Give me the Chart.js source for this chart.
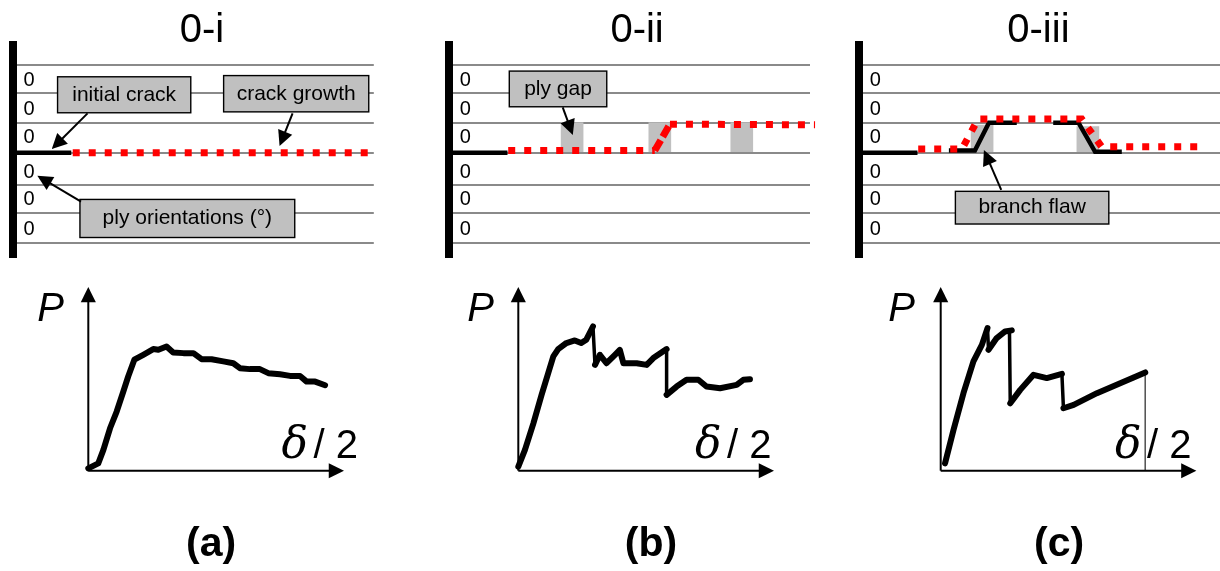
<!DOCTYPE html>
<html>
<head>
<meta charset="utf-8">
<script src="https://cdn.jsdelivr.net/npm/chart.js@4"></script>
<style>
body { margin: 0; background: #fff; overflow: hidden; width: 1220px; height: 571px; position: relative; }
canvas { position: absolute; }
</style>
</head>
<body>
<canvas id="layup1" width="400" height="270" style="left:0;top:0"></canvas>
<canvas id="layup2" width="400" height="270" style="left:430px;top:0"></canvas>
<canvas id="layup3" width="380" height="270" style="left:840px;top:0"></canvas>
<canvas id="load1" width="350" height="301" style="left:20px;top:270px"></canvas>
<canvas id="load2" width="350" height="301" style="left:450px;top:270px"></canvas>
<canvas id="load3" width="350" height="301" style="left:870px;top:270px"></canvas>
<script>
// ply interfaces, crack plane = 0
var plyLines = [2.92, 2, 1, 0, -1.07, -2, -3];
var plyLabelY = [2.49, 1.49, 0.56, -0.58, -1.51, -2.51];
var plyLabels = ["0", "0", "0", "0", "0", "0"];

var initialCrackX = [0, 16.2];
var initialCrackY = [0, 0];

var growth1X = [16.6, 98.6];
var growth1Y = [0, 0];

var growth2X = [16.4, 57, 61.2, 101.4];
var growth2Y = [0.07, 0.07, 0.95, 0.93];
var gaps2X = [34.1, 58.4, 81.1];
var gaps2Top = [1, 1, 1];

var growth3X = [16.4, 28.5, 33, 61.7, 67.2, 95.4];
var growth3Y = [0.12, 0.12, 1.12, 1.12, 0.2, 0.2];
var gaps3X = [34.1, 63.4];
var gaps3Top = [0.92, 0.87];
var flaw3LeftX = [24.9, 32.1, 36, 43.7];
var flaw3LeftY = [0.07, 0.07, 1, 1];
var flaw3RightX = [53.8, 60.8, 65.4, 72.8];
var flaw3RightY = [1, 1, 0.03, 0.03];

// load-displacement curves, both axes 0-100
var curveAX = [0, 3.9, 5.9, 8.5, 11.1, 13.7, 15.6, 18, 21.5, 25.4, 27.4, 30.6, 33.2, 37.2, 41.1, 44.3, 48.2, 52.8, 56.7, 59.3, 63.2, 67.1, 70.4, 75, 78.9, 82.8, 85.4, 88.7, 92.6];
var curveAP = [1.3, 4, 11.3, 23.1, 32.2, 43.1, 51.3, 60.4, 63.1, 66.2, 65.8, 67.6, 64.4, 64, 64, 60.7, 60.7, 59.5, 58.5, 55.8, 55.3, 55.3, 53.1, 52.5, 51.6, 51.6, 48.5, 48.5, 46.5];

var curveBX = [0, 2.6, 5.9, 9.1, 11.7, 13.7, 15.6, 18.8, 22.1, 24.6, 26.6, 29.2, 30, 31.9, 34.5, 37.8, 39.7, 41.1, 46.3, 50.2, 52.8, 58, 58, 61.9, 65.8, 70.4, 73.6, 78.9, 85.4, 88, 90.6];
var curveBP = [2.2, 11.3, 25.8, 41.3, 53.1, 62.2, 66.2, 69.5, 70.9, 69.5, 71.3, 78.5, 57.6, 63.1, 58.5, 63.1, 65.8, 58.5, 58.5, 57.6, 61.3, 66.2, 41.3, 45.8, 49.5, 49.5, 45.8, 44.9, 46.7, 49.5, 49.8];

var curveCX = [1.7, 5, 8.9, 12.8, 16.1, 18.3, 18.7, 21.9, 25.2, 27.8, 26.9, 27.2, 31.1, 36.3, 41.5, 47.4, 48, 52, 61.1, 70.2, 80];
var curveCP = [4, 22.2, 42.2, 59.5, 68.5, 77.6, 65.8, 72.2, 75.8, 76.4, 75.8, 36.7, 44, 52.2, 50.4, 52.7, 34, 35.8, 42.2, 47.6, 53.5];
var dropCX = [80, 80];
var dropCP = [53.5, 0];

function xy(xs, ys) {
	return xs.map(function (x, i) { return { x: x, y: ys[i] }; });
}

function drawArrow(ctx, x0, y0, x1, y1, size, lineWidth) {
	var a = Math.atan2(y1 - y0, x1 - x0);
	ctx.strokeStyle = "#000";
	ctx.fillStyle = "#000";
	ctx.lineWidth = lineWidth;
	ctx.beginPath();
	ctx.moveTo(x0, y0);
	ctx.lineTo(x1 - Math.cos(a) * size * 0.8, y1 - Math.sin(a) * size * 0.8);
	ctx.stroke();
	ctx.beginPath();
	ctx.moveTo(x1, y1);
	ctx.lineTo(x1 - size * Math.cos(a - 0.46), y1 - size * Math.sin(a - 0.46));
	ctx.lineTo(x1 - size * Math.cos(a + 0.46), y1 - size * Math.sin(a + 0.46));
	ctx.closePath();
	ctx.fill();
}

// title, ply labels and callouts for the layup sketches
function layupNotes(title, titleX, callouts) {
	return {
		id: "layupNotes",
		afterDraw: function (chart) {
			var ctx = chart.ctx, sx = chart.scales.x, sy = chart.scales.y;
			ctx.save();
			ctx.textBaseline = "alphabetic";
			ctx.fillStyle = "#000";
			ctx.textAlign = "center";
			ctx.font = "40px 'Liberation Sans'";
			ctx.fillText(title, sx.getPixelForValue(titleX), 41.5);

			ctx.font = "20px 'Liberation Sans'";
			ctx.textBaseline = "middle";
			plyLabelY.forEach(function (y, i) {
				ctx.fillStyle = "#000";
				ctx.fillText(plyLabels[i], sx.getPixelForValue(4.5), sy.getPixelForValue(y) + 2);
			});

			callouts.forEach(function (c) {
				var l = sx.getPixelForValue(c.x0), r = sx.getPixelForValue(c.x1);
				var t = sy.getPixelForValue(c.y0), b = sy.getPixelForValue(c.y1);
				ctx.fillStyle = "#c0c0c0";
				ctx.strokeStyle = "#000";
				ctx.lineWidth = 1.4;
				ctx.fillRect(l, t, r - l, b - t);
				ctx.strokeRect(l, t, r - l, b - t);
				ctx.fillStyle = "#000";
				ctx.font = "21px 'Liberation Sans'";
				ctx.fillText(c.text, (l + r) / 2, (t + b) / 2);
				drawArrow(ctx, sx.getPixelForValue(c.from[0]), sy.getPixelForValue(c.from[1]),
					sx.getPixelForValue(c.to[0]), sy.getPixelForValue(c.to[1]), 17, 2);
			});
			ctx.restore();
		},
	};
}

// axis arrows, P and delta/2 labels, panel caption
function loadNotes(caption, captionX, pX, deltaX) {
	return {
		id: "loadNotes",
		afterDraw: function (chart) {
			var ctx = chart.ctx, sx = chart.scales.x, sy = chart.scales.y;
			var ox = sx.getPixelForValue(0), oy = sy.getPixelForValue(0);
			ctx.save();
			drawArrow(ctx, ox, oy, sx.getPixelForValue(100), oy, 17, 2);
			drawArrow(ctx, ox, oy, ox, sy.getPixelForValue(100), 17, 2);

			ctx.fillStyle = "#000";
			ctx.textBaseline = "alphabetic";
			ctx.textAlign = "left";
			ctx.font = "italic 40px 'Liberation Sans'";
			ctx.fillText("P", sx.getPixelForValue(pX), sy.getPixelForValue(81.4));

			var dx = sx.getPixelForValue(deltaX), dy = sy.getPixelForValue(6.7);
			ctx.font = "italic 44px 'DejaVu Serif'";
			ctx.fillText("δ", dx, dy);
			ctx.font = "40px 'Liberation Sans'";
			ctx.fillText("/ 2", dx + 32, dy);

			ctx.textAlign = "center";
			ctx.font = "bold 41px 'Liberation Sans'";
			ctx.fillText(caption, sx.getPixelForValue(captionX), sy.getPixelForValue(-46.6));
			ctx.restore();
		},
	};
}

function redLine(xs, ys, rampDash) {
	return {
		type: "line",
		data: xy(xs, ys),
		borderColor: "#ff0000",
		borderWidth: 7,
		borderDash: [7, 9],
		pointRadius: 0,
		tension: 0,
		clip: false,
		order: 1,
		segment: {
			borderDash: function (c) {
				return rampDash && Math.abs(c.p1.parsed.y - c.p0.parsed.y) > 0.5 ? rampDash : undefined;
			},
		},
	};
}

function blackLine(xs, ys) {
	return {
		type: "line",
		data: xy(xs, ys),
		borderColor: "#000",
		borderWidth: 4.5,
		pointRadius: 0,
		tension: 0,
		clip: false,
		order: 2,
	};
}

function gapBars(xs, tops) {
	return {
		type: "bar",
		data: xs.map(function (x, i) { return { x: x, y: [0, tops[i]] }; }),
		backgroundColor: "#c0c0c0",
		barThickness: 22,
		order: 3,
	};
}

function layupChart(id, padLeft, padRight, datasets, plugin) {
	return new Chart(document.getElementById(id), {
		type: "line",
		data: { datasets: datasets },
		plugins: [plugin],
		options: {
			responsive: false,
			animation: false,
			events: [],
			layout: { padding: { left: padLeft, right: padRight, top: 45, bottom: 13 } },
			plugins: { legend: { display: false }, tooltip: { enabled: false } },
			scales: {
				x: { type: "linear", min: 0, max: 100, display: false, offset: false },
				y: {
					type: "linear",
					min: -3.48,
					max: 3.59,
					afterFit: function (s) { s.width = 0; },
					afterBuildTicks: function (s) {
						s.ticks = plyLines.map(function (v) { return { value: v }; });
					},
					ticks: { display: false },
					grid: { color: "#8a8a8a", lineWidth: 2, drawTicks: false },
					border: { color: "#000", width: 8 },
				},
			},
		},
	});
}

function loadChart(id, padLeft, padRight, datasets, plugin) {
	return new Chart(document.getElementById(id), {
		type: "line",
		data: { datasets: datasets },
		plugins: [plugin],
		options: {
			responsive: false,
			animation: false,
			events: [],
			layout: { padding: { left: padLeft, right: padRight, top: 17, bottom: 100.3 } },
			plugins: { legend: { display: false }, tooltip: { enabled: false } },
			scales: {
				x: {
					type: "linear", min: 0, max: 100,
					afterFit: function (s) { s.height = 0; },
					ticks: { display: false },
					grid: { display: false },
					border: { display: false },
				},
				y: {
					type: "linear", min: 0, max: 100,
					afterFit: function (s) { s.width = 0; },
					ticks: { display: false },
					grid: { display: false },
					border: { display: false },
				},
			},
		},
	});
}

function curve(xs, ps) {
	return {
		data: xy(xs, ps),
		borderColor: "#000",
		borderWidth: 6,
		borderJoinStyle: "round",
		borderCapStyle: "round",
		pointRadius: 0,
		tension: 0,
		clip: false,
		// the sudden load drops are drawn thinner
		segment: {
			borderWidth: function (c) {
				return Math.abs(c.p1.parsed.x - c.p0.parsed.x) < 1 ? 3.5 : undefined;
			},
		},
	};
}

layupChart("layup1", 12.8, 26.2, [
	redLine(growth1X, growth1Y),
	blackLine(initialCrackX, initialCrackY),
], layupNotes("0-i", 52.4, [
	{ text: "initial crack", x0: 12.4, x1: 49.3, y0: 2.53, y1: 1.33, from: [20.7, 1.31], to: [10.8, 0.12] },
	{ text: "crack growth", x0: 58.4, x1: 98.6, y0: 2.57, y1: 1.36, from: [77.5, 1.31], to: [73.9, 0.22] },
	{ text: "ply orientations (°)", x0: 18.6, x1: 78.1, y0: -1.56, y1: -2.83, from: [18.9, -1.63], to: [6.8, -0.77] },
]));

layupChart("layup2", 19, 20, [
	redLine(growth2X, growth2Y, [12, 4]),
	blackLine(initialCrackX, initialCrackY),
	gapBars(gaps2X, gaps2Top),
], layupNotes("0-ii", 52.1, [
	{ text: "ply gap", x0: 16.7, x1: 43.7, y0: 2.72, y1: 1.53, from: [31.5, 1.51], to: [34.3, 0.59] },
]));

layupChart("layup3", 19, 0, [
	redLine(growth3X, growth3Y),
	blackLine(initialCrackX, initialCrackY),
	blackLine(flaw3LeftX, flaw3LeftY),
	blackLine(flaw3RightX, flaw3RightY),
	gapBars(gaps3X, gaps3Top),
], layupNotes("0-iii", 49.7, [
	{ text: "branch flaw", x0: 26.7, x1: 69.2, y0: -1.29, y1: -2.38, from: [39.4, -1.24], to: [34.6, 0.09] },
]));

loadChart("load1", 68.3, 26, [curve(curveAX, curveAP)], loadNotes("(a)", 48, -20, 75.6));
loadChart("load2", 68.3, 26, [curve(curveBX, curveBP)], loadNotes("(b)", 51.9, -20, 69.1));
loadChart("load3", 70.7, 23.6, [
	curve(curveCX, curveCP),
	{ data: xy(dropCX, dropCP), borderColor: "#555", borderWidth: 1, pointRadius: 0, clip: false },
], loadNotes("(c)", 46.3, -20.5, 68.2));
</script>
</body>
</html>
